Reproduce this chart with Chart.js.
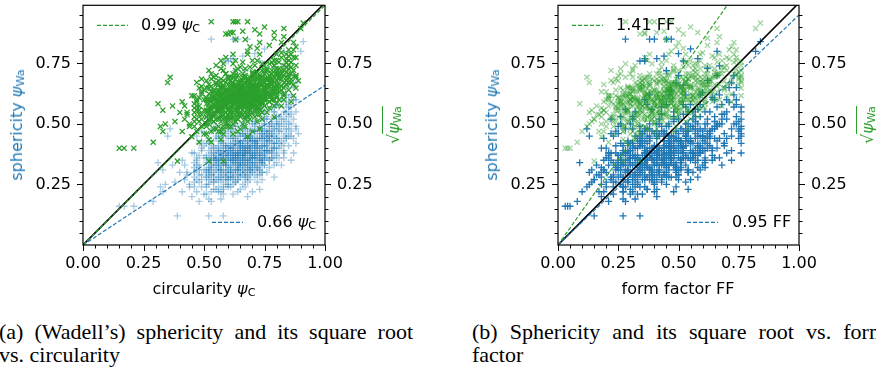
<!DOCTYPE html>
<html>
<head>
<meta charset="utf-8">
<script src="https://cdn.jsdelivr.net/npm/chart.js@4.4.0/dist/chart.umd.min.js"></script>
<style>
  body { margin: 0; width: 876px; height: 373px; overflow: hidden; position: relative; background: #fff; font-family: 'DejaVu Sans', sans-serif; }
  canvas { position: absolute; top: 0; }
  .lbl { position: absolute; font-size: 16px; line-height: 1; white-space: nowrap; color: #000; }
  .rot { transform: translate(-50%, -50%) rotate(-90deg); }
  .hx { transform: translate(-50%, -50%); }
  .leg { transform: translateY(-50%); }
  .blue { color: #1f77b4; }
  .green { color: #2ca02c; }
  i { font-style: italic; }
  sub { font-size: 70%; vertical-align: -0.22em; line-height: 0; }
  .root { border-top: 1px solid #2ca02c; padding-top: 1px; }
  .cap { position: absolute; top: 320px; width: 414px; font: 22px 'Liberation Serif', serif; line-height: 23px; color: #000; }
  .cap .l1 { text-align: justify; text-align-last: justify; }
</style>
</head>
<body>
<canvas id="chartA" width="438" height="300" style="left:0"></canvas>
<canvas id="chartB" width="438" height="300" style="left:438px"></canvas>

<!-- axis titles -->
<div class="lbl rot blue" style="left:17px; top:125px">sphericity <i>ψ</i><sub>Wa</sub></div>
<div class="lbl rot green" style="left:394px; top:125px">√<span class="root"><i>ψ</i><sub>Wa</sub></span></div>
<div class="lbl hx" style="left:204px; top:289px">circularity <i>ψ</i><sub>C</sub></div>

<div class="lbl rot blue" style="left:492px; top:125px">sphericity <i>ψ</i><sub>Wa</sub></div>
<div class="lbl rot green" style="left:868px; top:125px">√<span class="root"><i>ψ</i><sub>Wa</sub></span></div>
<div class="lbl hx" style="left:678px; top:289px">form factor FF</div>

<!-- fit legends -->
<div class="lbl leg" style="left:141px; top:25px">0.99 <i>ψ</i><sub>C</sub></div>
<div class="lbl leg" style="left:257px; top:222px">0.66 <i>ψ</i><sub>C</sub></div>
<div class="lbl leg" style="left:616px; top:25px">1.41 FF</div>
<div class="lbl leg" style="left:732px; top:222px">0.95 FF</div>

<!-- captions -->
<div class="cap" style="left:-1px">
  <div class="l1">(a) (Wadell’s) sphericity and its square root</div>
  <div>vs. circularity</div>
</div>
<div class="cap" style="left:472px">
  <div class="l1">(b) Sphericity and its square root vs. form</div>
  <div>factor</div>
</div>

<script>
// ---------------------------------------- data (values x 100) ----------------------------------------
// one entry per particle: circularity psi_C, form factor FF, Wadell sphericity psi_Wa
const circularityPct = [
    15, 17, 21, 29, 32, 33, 34, 31, 33, 36, 35, 39, 52, 58, 53, 68, 38, 40, 37, 90, 91,
    59, 66, 71, 75, 62, 79, 83,
    41, 42, 43, 44, 42, 45, 43, 44, 41, 45,
    46, 47, 48, 46, 49, 47, 48, 49, 46, 50, 47, 48, 49, 46, 47, 48, 49, 50, 46, 48, 49, 47,
    51, 52, 53, 54, 51, 52, 53, 54, 55, 51,
    52, 53, 54, 55, 51, 52, 53, 54, 55, 51,
    52, 53, 54, 55, 52, 53, 54, 55, 51, 52,
    53, 54, 55, 52, 53, 54, 55, 51, 53, 54,
    56, 57, 58, 59, 56, 57, 58, 59, 60, 56,
    57, 58, 59, 60, 56, 57, 58, 59, 60, 56,
    57, 58, 59, 60, 56, 57, 58, 59, 60, 56,
    57, 58, 59, 60, 56, 57, 58, 59, 60, 56,
    57, 58, 59, 60, 57, 58, 59, 56, 58, 59,
    57, 60, 58, 59, 56,
    61, 62, 63, 64, 65, 61, 62, 63, 64, 65,
    61, 62, 63, 64, 65, 61, 62, 63, 64, 65,
    61, 62, 63, 64, 65, 61, 62, 63, 64, 65,
    61, 62, 63, 64, 65, 61, 62, 63, 64, 65,
    62, 63, 64, 61, 65, 62, 63, 64, 65, 61,
    62, 63, 64, 65, 61, 62, 63, 64, 65, 62,
    63, 64, 61, 60, 63,
    66, 67, 68, 69, 70, 66, 67, 68, 69, 70,
    66, 67, 68, 69, 70, 66, 67, 68, 69, 70,
    66, 67, 68, 69, 70, 66, 67, 68, 69, 70,
    66, 67, 68, 69, 70, 66, 67, 68, 69, 70,
    66, 67, 68, 69, 70, 66, 67, 68, 69, 70,
    66, 67, 68, 69, 70, 67, 68, 69, 66, 70,
    68, 67, 69, 66, 68,
    71, 72, 73, 74, 75, 71, 72, 73, 74, 75,
    71, 72, 73, 74, 75, 71, 72, 73, 74, 75,
    71, 72, 73, 74, 75, 71, 72, 73, 74, 75,
    71, 72, 73, 74, 75, 71, 72, 73, 74, 75,
    72, 73, 74, 71, 75, 72, 73, 74, 71, 75,
    73, 72, 74, 71, 73,
    76, 77, 78, 79, 80, 76, 77, 78, 79, 80,
    76, 77, 78, 79, 80, 76, 77, 78, 79, 80,
    76, 77, 78, 79, 80, 76, 77, 78, 79, 80,
    76, 77, 78, 79, 80, 77, 78, 79, 76, 80,
    81, 82, 83, 84, 85, 81, 82, 83, 84, 85,
    81, 82, 83, 84, 85, 81, 82, 83, 84, 85,
    81, 82, 83, 84, 85, 82, 83, 84, 81, 85,
    86, 87, 88, 86, 87, 88, 86, 87, 88, 86, 87, 88, 89, 87, 86,
    // second pass over the dense core
    47, 49, 46, 48, 50, 49, 47, 46, 50, 48,
    51, 53, 55, 52, 54, 51, 53, 55, 52, 54,
    51, 53, 55, 52, 54, 51, 53, 55, 52, 54,
    53, 51, 55, 52, 54,
    56, 58, 60, 57, 59, 56, 58, 60, 57, 59,
    56, 58, 60, 57, 59, 56, 58, 60, 57, 59,
    56, 58, 60, 57, 59, 56, 58, 60, 57, 59,
    58, 56, 60, 57, 59,
    61, 63, 65, 62, 64, 61, 63, 65, 62, 64,
    61, 63, 65, 62, 64, 61, 63, 65, 62, 64,
    61, 63, 65, 62, 64, 61, 63, 65, 62, 64,
    61, 63, 65, 62, 64, 61, 63, 65, 62, 64,
    63, 61, 65, 62, 64,
    66, 68, 70, 67, 69, 66, 68, 70, 67, 69,
    66, 68, 70, 67, 69, 66, 68, 70, 67, 69,
    66, 68, 70, 67, 69, 66, 68, 70, 67, 69,
    66, 68, 70, 67, 69, 66, 68, 70, 67, 69,
    68, 66, 70, 67, 69,
    71, 73, 75, 72, 74, 71, 73, 75, 72, 74,
    71, 73, 75, 72, 74, 71, 73, 75, 72, 74,
    71, 73, 75, 72, 74, 71, 73, 75, 72, 74,
    71, 73, 75, 72, 74, 71, 73, 75, 72, 74,
    76, 78, 80, 77, 79, 76, 78, 80, 77, 79,
    76, 78, 80, 77, 79, 76, 78, 80, 77, 79,
    76, 78, 80, 77, 79, 76, 78, 80, 77, 79,
    81, 83, 85, 82, 84, 81, 83, 85, 82, 84, 81, 83, 85, 82, 84,
    86, 88, 87, 86, 88
];
const formFactorPct = [
    3, 4, 5, 8, 12, 10, 13, 9, 14, 12, 13, 15, 27, 34, 28, 47, 14, 13, 16, 82, 84,
    36, 44, 50, 55, 41, 58, 66,
    17, 15, 20, 18, 21, 22, 16, 23, 19, 18,
    20, 24, 21, 23, 26, 19, 25, 22, 18, 27, 23, 28, 20, 22, 26, 19, 27, 23, 25, 24, 29, 21,
    26, 28, 24, 30, 23, 27, 31, 26, 29, 25,
    30, 27, 32, 28, 22, 24, 29, 27, 33, 28,
    26, 30, 29, 31, 23, 25, 34, 30, 27, 29,
    28, 31, 26, 31, 26, 28, 32, 29, 33, 25,
    30, 33, 35, 32, 34, 31, 29, 37, 34, 28,
    35, 33, 30, 38, 32, 29, 36, 34, 31, 35,
    32, 31, 36, 35, 29, 34, 38, 33, 32, 33,
    36, 32, 35, 37, 31, 30, 34, 31, 36, 36,
    37, 30, 38, 33, 33, 37, 29, 27, 35, 34,
    28, 39, 33, 36, 34,
    37, 39, 40, 42, 41, 35, 38, 37, 40, 43,
    39, 36, 41, 38, 44, 34, 40, 39, 43, 39,
    38, 37, 42, 39, 42, 36, 41, 38, 44, 40,
    40, 35, 43, 37, 45, 33, 42, 36, 41, 38,
    39, 40, 45, 37, 41, 34, 44, 36, 46, 41,
    38, 39, 42, 37, 35, 43, 41, 40, 43, 38,
    40, 45, 36, 34, 45,
    44, 45, 46, 48, 47, 42, 47, 44, 50, 49,
    45, 43, 48, 46, 51, 41, 46, 45, 47, 48,
    43, 44, 49, 45, 50, 46, 48, 43, 49, 46,
    40, 42, 47, 51, 45, 47, 49, 42, 44, 52,
    44, 41, 50, 48, 47, 39, 46, 45, 43, 49,
    45, 47, 46, 50, 44, 44, 48, 46, 42, 48,
    47, 45, 49, 43, 41,
    50, 52, 53, 55, 54, 48, 51, 50, 53, 57,
    52, 49, 55, 51, 55, 47, 53, 52, 56, 53,
    51, 50, 48, 54, 56, 49, 54, 51, 52, 58,
    53, 48, 54, 50, 52, 46, 55, 49, 57, 51,
    51, 53, 55, 50, 54, 52, 56, 49, 48, 59,
    50, 47, 58, 54, 52,
    57, 59, 60, 62, 61, 55, 58, 62, 60, 63,
    58, 56, 59, 63, 60, 56, 60, 57, 61, 64,
    59, 55, 61, 59, 62, 54, 61, 58, 64, 59,
    60, 57, 63, 58, 65, 62, 56, 62, 53, 61,
    64, 66, 68, 69, 70, 62, 67, 65, 71, 72,
    65, 63, 69, 67, 73, 66, 68, 66, 70, 71,
    63, 65, 70, 68, 69, 66, 67, 72, 61, 74,
    74, 75, 76, 73, 76, 75, 76, 74, 76, 72, 76, 74, 76, 73, 75,
    // second pass over the dense core
    26, 18, 27, 17, 30, 24, 15, 21, 19, 29,
    33, 21, 36, 19, 35, 30, 34, 22, 33, 20,
    20, 36, 25, 34, 23, 31, 18, 37, 22, 37,
    32, 18, 34, 35, 21,
    40, 26, 42, 24, 41, 25, 41, 28, 40, 26,
    38, 27, 41, 39, 25, 24, 42, 27, 26, 42,
    41, 25, 43, 27, 40, 37, 28, 30, 41, 27,
    39, 26, 40, 38, 28,
    46, 31, 49, 30, 48, 29, 47, 34, 46, 32,
    45, 30, 48, 31, 33, 28, 46, 35, 45, 49,
    30, 48, 33, 47, 31, 44, 32, 50, 29, 47,
    43, 33, 47, 32, 34, 31, 45, 36, 44, 30,
    34, 47, 31, 48, 46,
    52, 37, 55, 36, 54, 35, 53, 40, 51, 39,
    50, 38, 54, 37, 41, 36, 52, 41, 50, 53,
    37, 51, 42, 53, 38, 51, 39, 56, 35, 52,
    49, 40, 53, 38, 40, 38, 54, 43, 52, 37,
    36, 53, 39, 49, 55,
    58, 44, 60, 43, 59, 42, 58, 46, 57, 45,
    56, 45, 59, 44, 47, 43, 57, 47, 58, 60,
    44, 59, 48, 56, 46, 57, 46, 61, 45, 58,
    45, 56, 45, 59, 44, 55, 47, 62, 46, 61,
    62, 52, 66, 51, 67, 50, 65, 55, 63, 54,
    51, 66, 56, 64, 53, 63, 53, 67, 52, 65,
    61, 54, 57, 65, 55, 52, 64, 68, 53, 66,
    68, 60, 74, 59, 73, 58, 72, 64, 70, 62, 69, 61, 76, 60, 75,
    69, 76, 70, 76, 72
];
const sphericityPct = [
    16, 16, 16, 18, 24, 22, 25, 34, 31, 48, 45, 12, 12, 12, 85, 85, 26, 30, 33, 80, 84,
    76, 78, 79, 81, 77, 77, 80,
    22, 27, 30, 25, 33, 38, 29, 24, 35, 20,
    26, 31, 18, 34, 29, 22, 37, 27, 30, 41, 45, 33, 24, 28, 35, 31, 39, 21, 32, 26, 43, 36,
    25, 30, 33, 36, 28, 19, 40, 34, 31, 37,
    42, 22, 29, 35, 46, 32, 27, 38, 44, 24,
    36, 50, 26, 33, 29, 31, 41, 23, 34, 39,
    18, 48, 37, 27, 35, 30, 55, 31, 43, 28,
    33, 28, 37, 40, 24, 36, 31, 45, 29, 38,
    42, 21, 34, 48, 30, 26, 39, 33, 37, 44,
    19, 52, 28, 41, 35, 31, 27, 36, 24, 40,
    47, 34, 30, 38, 22, 39, 43, 25, 32, 36,
    58, 29, 50, 35, 33, 23, 38, 27, 46, 41,
    31, 27, 36, 60, 34,
    35, 30, 38, 33, 41, 27, 44, 36, 22, 39,
    31, 48, 34, 29, 37, 42, 25, 40, 35, 30,
    38, 33, 52, 27, 45, 24, 37, 31, 41, 34,
    46, 21, 36, 39, 28, 32, 40, 43, 36, 32,
    56, 26, 49, 39, 23, 35, 29, 38, 42, 30,
    62, 35, 31, 37, 44, 28, 47, 33, 54, 85,
    85, 85, 77, 76, 72,
    38, 33, 41, 36, 44, 29, 40, 35, 31, 47,
    25, 37, 43, 39, 34, 50, 28, 38, 42, 22,
    35, 45, 31, 36, 40, 33, 53, 26, 44, 37,
    41, 30, 39, 48, 32, 36, 24, 46, 34, 58,
    43, 38, 29, 41, 36, 31, 49, 34, 27, 43,
    46, 35, 62, 38, 30, 40, 33, 45, 37, 51,
    64, 72, 67, 57, 20,
    41, 36, 44, 39, 47, 33, 42, 29, 46, 37,
    38, 31, 49, 35, 42, 45, 26, 40, 52, 33,
    36, 44, 37, 30, 55, 28, 47, 34, 41, 39,
    50, 39, 23, 44, 36, 40, 58, 32, 48, 43,
    35, 62, 27, 43, 50, 66, 38, 34, 55, 45,
    70, 41, 37, 31, 76,
    44, 39, 47, 42, 50, 36, 45, 52, 33, 46,
    41, 49, 38, 55, 40, 30, 43, 46, 48, 37,
    53, 35, 42, 58, 44, 47, 32, 50, 40, 62,
    39, 56, 45, 28, 51, 68, 36, 73, 43, 34,
    48, 43, 52, 46, 55, 40, 50, 36, 59, 45,
    53, 47, 42, 62, 50, 57, 33, 49, 44, 65,
    44, 60, 38, 54, 41, 70, 74, 48, 36, 58,
    50, 44, 55, 62, 38, 48, 57, 65, 42, 35, 52, 60, 46, 70, 47,
    // second pass over the dense core
    33, 40, 24, 29, 36, 47, 27, 38, 31, 42,
    30, 38, 27, 44, 33, 21, 47, 35, 25, 40,
    36, 29, 49, 34, 26, 42, 32, 39, 52, 23,
    36, 28, 45, 31, 37,
    35, 42, 31, 38, 27, 46, 33, 39, 29, 50,
    32, 24, 44, 36, 34, 41, 37, 28, 53, 30,
    39, 35, 47, 22, 41, 28, 56, 36, 45, 33,
    40, 31, 25, 43, 37,
    36, 42, 33, 39, 45, 30, 38, 35, 50, 27,
    41, 34, 40, 28, 37, 48, 31, 43, 36, 32,
    39, 44, 29, 34, 53, 33, 37, 46, 42, 38,
    35, 26, 39, 45, 31, 37, 58, 34, 40, 36,
    49, 28, 41, 37, 43,
    40, 35, 43, 38, 31, 46, 37, 33, 42, 29,
    36, 44, 30, 48, 39, 34, 41, 37, 27, 45,
    42, 32, 50, 36, 40, 31, 47, 38, 33, 54,
    39, 28, 41, 45, 35, 37, 43, 34, 39, 32,
    40, 48, 36, 30, 44,
    42, 37, 45, 33, 48, 39, 35, 41, 51, 30,
    36, 46, 38, 43, 34, 49, 40, 36, 32, 44,
    47, 31, 52, 38, 41, 34, 44, 39, 29, 56,
    37, 48, 33, 40, 46, 43, 36, 50, 42, 35,
    46, 40, 49, 43, 36, 52, 44, 38, 47, 55,
    39, 50, 42, 35, 45, 41, 57, 44, 38, 48,
    44, 36, 53, 49, 42, 47, 39, 58, 45, 40,
    50, 45, 53, 41, 57, 47, 39, 61, 52, 44, 42, 55, 48, 63, 51,
    54, 49, 60, 45, 67
];

// fitted slopes shown in the legends
const fitCircularity = { sqrt: 0.99, plain: 0.66 };
const fitFormFactor = { sqrt: 1.41, plain: 0.95 };

const xTicks = [0, 0.25, 0.5, 0.75, 1];
const yTicks = [0.25, 0.5, 0.75];
const yMax = 0.99;

const circularity = circularityPct.map(v => v / 100);
const formFactor = formFactorPct.map(v => v / 100);
const sphericity = sphericityPct.map(v => v / 100);

// --------------------------------------- colours ------------------------------------------
const BLUE = '#1f77b4';
const GREEN = '#2ca02c';

Chart.defaults.font.family = "'DejaVu Sans', sans-serif";
Chart.defaults.font.size = 16;
Chart.defaults.color = '#000';

// frame, ticks and legend dash samples (matplotlib look)
const framePlugin = {
    id: 'frame',
    afterDraw(chart) {
        const { ctx, chartArea: a, scales } = chart;
        ctx.save();
        ctx.strokeStyle = '#000';
        ctx.lineWidth = 1;
        ctx.beginPath();
        for (let k = 0; k <= 20; k++) {
            const v = k / 20;
            const major = k % 5 === 0;
            const len = major ? 6 : 3.5;
            const px = Math.round(scales.x.getPixelForValue(v)) + 0.5;
            ctx.moveTo(px, a.bottom); ctx.lineTo(px, a.bottom + len);
            if (v > 0 && v < yMax) {
                const py = Math.round(scales.y.getPixelForValue(v)) + 0.5;
                ctx.moveTo(a.left, py); ctx.lineTo(a.left - len, py);
                ctx.moveTo(a.right, py); ctx.lineTo(a.right + len, py);
            }
        }
        ctx.stroke();
        ctx.lineWidth = 1.2;
        ctx.strokeRect(a.left, a.top, a.right - a.left, a.bottom - a.top);

        // legend samples
        ctx.setLineDash([4, 2]);
        ctx.strokeStyle = GREEN;
        ctx.beginPath(); ctx.moveTo(a.left + 14, a.top + 20); ctx.lineTo(a.left + 45, a.top + 20); ctx.stroke();
        ctx.strokeStyle = BLUE;
        ctx.beginPath(); ctx.moveTo(a.left + 129, a.top + 217); ctx.lineTo(a.left + 160, a.top + 217); ctx.stroke();
        ctx.restore();
    }
};

function makeChart(id, xValues, fit, blueAlpha, greenAlpha, leftW, rightW) {
    const bluePts = xValues.map((x, i) => ({ x: x, y: sphericity[i] }));
    const greenPts = xValues.map((x, i) => ({ x: x, y: Math.sqrt(sphericity[i]) }));
    const blueCol = `rgba(31,119,180,${blueAlpha})`;
    const greenCol = `rgba(44,160,44,${greenAlpha})`;

    const axisY = (pos, w) => ({
        type: 'linear',
        position: pos,
        min: 0,
        max: yMax,
        grid: { display: false, drawTicks: false },
        border: { display: false },
        ticks: { padding: 12, callback: v => v.toFixed(2) },
        afterBuildTicks: s => { s.ticks = yTicks.map(v => ({ value: v })); },
        afterFit: s => { s.width = w; s.paddingTop = 0; s.paddingBottom = 0; }
    });

    return new Chart(id, {
        type: 'scatter',
        data: {
            datasets: [
                {
                    data: bluePts, yAxisID: 'y', order: 5,
                    pointStyle: 'cross', pointRadius: 3.5, pointBorderWidth: 1.3,
                    borderColor: blueCol, pointBorderColor: blueCol
                },
                {
                    data: [{ x: 0, y: 0 }, { x: 1, y: 1 }], yAxisID: 'y', order: 4,
                    showLine: true, pointRadius: 0, borderColor: '#000', borderWidth: 1.6
                },
                {
                    data: [{ x: 0, y: 0 }, { x: 1, y: fit.plain }], yAxisID: 'y', order: 3,
                    showLine: true, pointRadius: 0, borderColor: BLUE, borderWidth: 1.2, borderDash: [4, 2]
                },
                {
                    data: greenPts, yAxisID: 'y2', order: 2,
                    pointStyle: 'crossRot', pointRadius: 3.6, pointBorderWidth: 1.3,
                    borderColor: greenCol, pointBorderColor: greenCol
                },
                {
                    data: [{ x: 0, y: 0 }, { x: 1, y: fit.sqrt }], yAxisID: 'y2', order: 1,
                    showLine: true, pointRadius: 0, borderColor: GREEN, borderWidth: 1.2, borderDash: [4, 2]
                }
            ]
        },
        options: {
            responsive: false,
            animation: false,
            devicePixelRatio: 1,
            events: [],
            layout: { padding: { top: 5, left: 0, right: 0, bottom: 0 } },
            plugins: { legend: { display: false }, tooltip: { enabled: false } },
            scales: {
                x: {
                    type: 'linear',
                    min: 0,
                    max: 1,
                    grid: { display: false, drawTicks: false },
                    border: { display: false },
                    ticks: { padding: 9, maxRotation: 0, autoSkip: false, callback: v => v.toFixed(2) },
                    afterBuildTicks: s => { s.ticks = xTicks.map(v => ({ value: v })); },
                    afterFit: s => { s.height = 55; s.paddingLeft = 0; s.paddingRight = 0; }
                },
                y: axisY('left', leftW),
                y2: axisY('right', rightW)
            }
        },
        plugins: [framePlugin]
    });
}

makeChart('chartA', circularity, fitCircularity, 0.4, 1, 83, 113);
makeChart('chartB', formFactor, fitFormFactor, 1, 0.45, 120, 77);
</script>
</body>
</html>
